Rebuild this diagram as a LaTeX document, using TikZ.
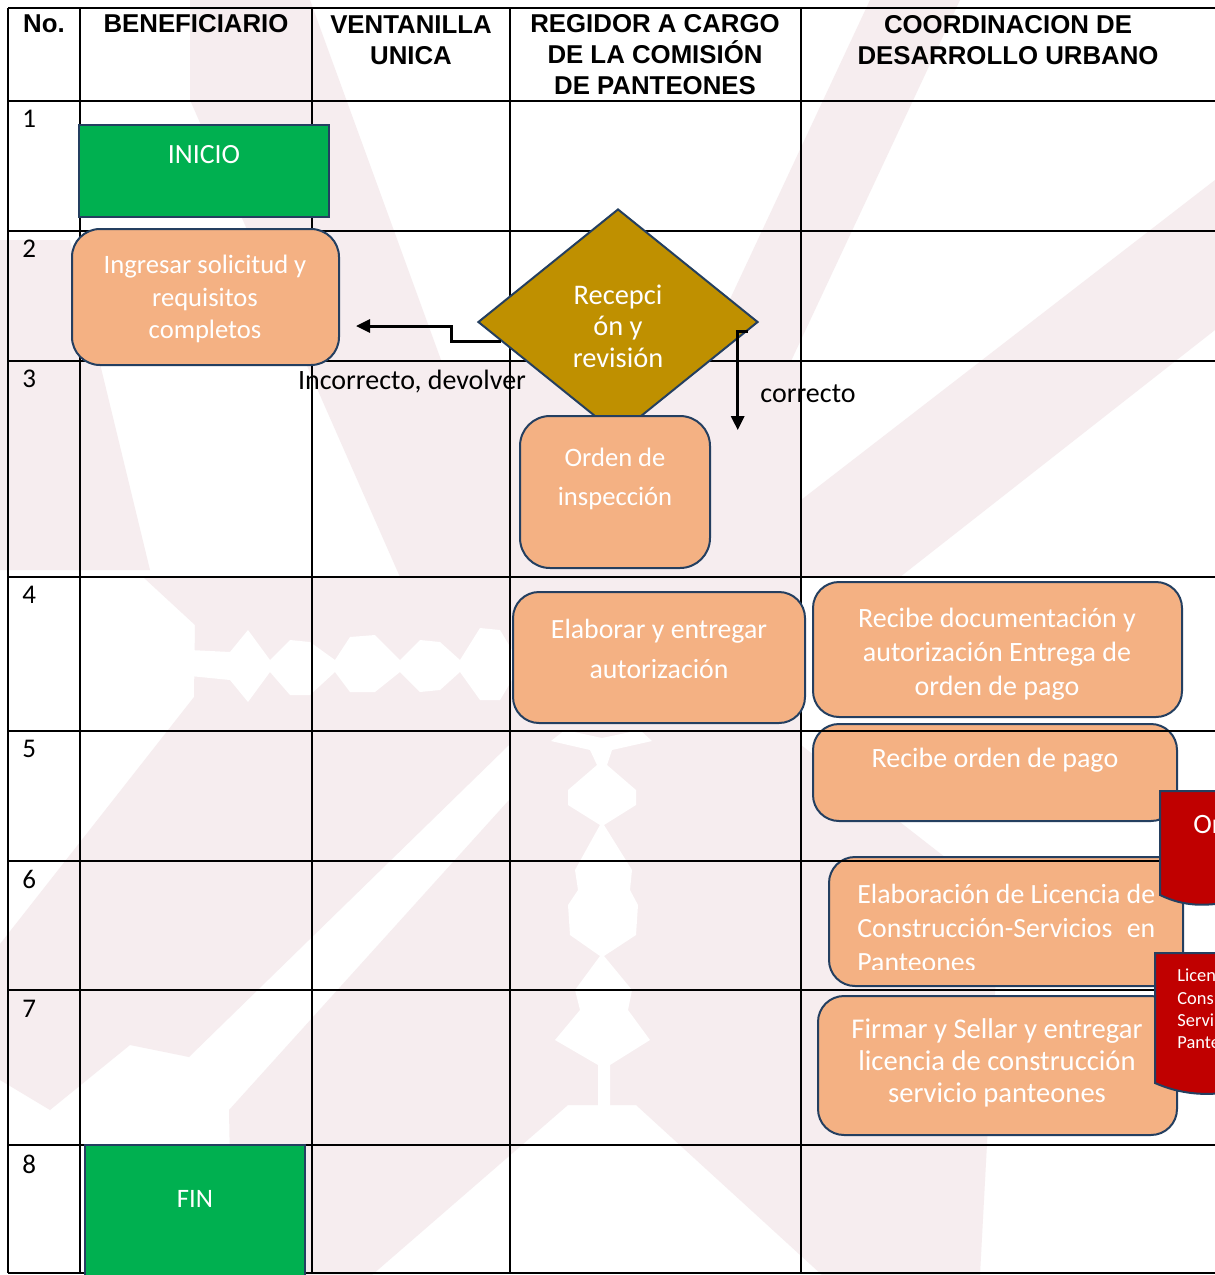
\documentclass[tikz,border=0pt]{standalone}
\usepackage{fontspec}
\setmainfont{Carlito}
\newfontfamily\hdfont{Liberation Sans}
\usetikzlibrary{shapes.geometric,arrows.meta,calc}
\definecolor{bordc}{HTML}{243F60}
\definecolor{orangec}{HTML}{F4B183}
\definecolor{greenc}{HTML}{00B050}
\definecolor{goldc}{HTML}{BF9000}
\definecolor{redc}{HTML}{C00000}
\definecolor{wmc}{HTML}{F6EDEF}
\begin{document}
\begin{tikzpicture}[x=0.5pt,y=-0.5pt,
  gridl/.style={line width=1pt,draw=black},
  obox/.style={draw=bordc,line width=1pt,fill=orangec,inner sep=0pt,rounded corners=13pt},
  gbox/.style={draw=bordc,line width=1pt,fill=greenc,inner sep=0pt},
  wtxt/.style={text=white,align=center,inner sep=0pt,font=\fontsize{13.6}{16.5}\selectfont},
  btxt/.style={text=black,inner sep=0pt,font=\fontsize{14}{17}\selectfont},
  hdr/.style={align=center,inner sep=0pt,font=\hdfont\bfseries\fontsize{12.9}{15.5}\selectfont},
  num/.style={anchor=west,inner sep=0pt,font=\fontsize{13.5}{16}\selectfont},
  conn/.style={line width=1.5pt,draw=black,-{Triangle[length=7pt,width=6.5pt]}},
  redshape/.style={fill=redc,draw=bordc,line width=1pt}]
\useasboundingbox (0,0) rectangle (1215,1275);
\clip (0,0) rectangle (1215,1275);
\fill[white] (0,0) rectangle (1215,1275);
% watermark (approximate)
\fill[wmc] (190,0) -- (310,0) -- (520,577) -- (400,577) -- (190,100) -- cycle;
\fill[wmc] (870,0) -- (960,0) -- (690,577) -- (600,577) -- cycle;
\fill[wmc] (1215,180) -- (1215,330) -- (900,577) -- (801,577) -- (801,500) -- cycle;
\fill[wmc] (0,240) -- (70,240) -- (150,570) -- (0,570) -- cycle;
\fill[wmc] (400,361) -- (801,361) -- (801,577) -- (400,577) -- cycle;
\fill[wmc] (143,577) -- (801,577) -- (801,745) -- (509,745) -- (189,1057) -- (130,1045) -- (50,1110) -- (0,1080) -- (0,944) -- (194,697) -- (195,625) -- cycle;
\fill[wmc] (229,1110) -- (509,800) -- (509,745) -- (801,745) -- (1000,900) -- (980,1275) -- (822,1275) -- (636,1105) -- (568,1105) -- (372,1275) -- (232,1275) -- cycle;
\fill[white] (190,650) -- (230,652) -- (248,630) -- (270,660) -- (290,640) -- (310,642) -- (335,660) -- (350,637) -- (375,635) -- (400,660) -- (420,640) -- (440,642) -- (460,660) -- (480,628) -- (500,630) -- (512,650) -- (512,680) -- (500,700) -- (480,700) -- (460,672) -- (440,690) -- (420,692) -- (400,672) -- (375,692) -- (350,692) -- (335,672) -- (310,695) -- (290,695) -- (270,672) -- (248,702) -- (230,680) -- (190,676) -- cycle;
\fill[white] (551,741) -- (590,750) -- (597,765) -- (568,790) -- (568,805) -- (600,825) -- (575,870) -- (578,890) -- (568,905) -- (570,935) -- (600,956) -- (575,990) -- (580,1010) -- (555,1040) -- (598,1065) -- (598,1110) -- (610,1110) -- (610,1065) -- (650,1040) -- (628,1010) -- (632,990) -- (604,956) -- (636,935) -- (638,905) -- (630,890) -- (632,870) -- (604,825) -- (636,805) -- (636,790) -- (607,765) -- (612,750) -- (652,741) -- (640,730) -- (602,738) -- (565,730) -- cycle;
% grid
\draw[gridl] (8,8) -- (1230,8);
\draw[gridl] (8,101) -- (1230,101);
\draw[gridl] (8,231) -- (1230,231);
\draw[gridl] (8,361) -- (1230,361);
\draw[gridl] (8,577) -- (1230,577);
\draw[gridl] (8,1145) -- (1230,1145);
\draw[gridl] (8,1273) -- (1230,1273);
\draw[gridl] (8,8) -- (8,1273);
\draw[gridl] (80,8) -- (80,1273);
\draw[gridl] (312,8) -- (312,1273);
\draw[gridl] (510,8) -- (510,1273);
\draw[gridl] (801,8) -- (801,1273);
\draw[gridl] (8,731) -- (801,731);
\draw[gridl] (8,861) -- (801,861);
\draw[gridl] (8,990) -- (801,990);
% headers
\node[hdr] (hno) at (44,24) {No.};
\node[hdr] (hben) at (196,24) {BENEFICIARIO};
\node[hdr] (hven) at (411,40) {VENTANILLA\\UNICA};
\node[hdr] (hreg) at (655,55) {REGIDOR A CARGO\\DE LA COMISIÓN\\DE PANTEONES};
\node[hdr] (hcoo) at (1008,40) {COORDINACION DE\\DESARROLLO URBANO};
% row numbers
\node[num] (n1) at (22,119) {1};
\node[num] (n2) at (22,249) {2};
\node[num] (n3) at (22,379) {3};
\node[num] (n4) at (22,595) {4};
\node[num] (n5) at (22,749) {5};
\node[num] (n6) at (22,879) {6};
\node[num] (n7) at (22,1009) {7};
\node[num] (n8) at (22,1164) {8};
% shapes
\node[gbox,minimum width=125pt,minimum height=46pt] (inicio) at (204,171) {};
\node[wtxt,font=\fontsize{13.9}{16}\selectfont] (tinicio) at (204,155) {INICIO};
\node[obox,rounded corners=14pt,minimum width=133.5pt,minimum height=68pt] (ingresar) at (205.5,297) {};
\node[wtxt,font=\fontsize{13.3}{16.25}\selectfont] (tingresar) at (205,299) {Ingresar solicitud y\\requisitos\\completos};
\node[diamond,draw=bordc,line width=1pt,fill=goldc,inner sep=0pt,minimum width=140pt,minimum height=113pt] (dia) at (618,322) {};
\node[wtxt,font=\fontsize{14.2}{15.75}\selectfont] (tdia) at (618,326) {Recepci\\ón y\\revisión};
\node[obox,rounded corners=15pt,minimum width=95pt,minimum height=76pt] (orden) at (615,492) {};
\node[wtxt,font=\fontsize{13.3}{19.5}\selectfont] (torden) at (615,479) {Orden de\\inspección};
\node[obox,minimum width=146pt,minimum height=65.5pt] (elab) at (659,657.5) {};
\node[wtxt,font=\fontsize{13.9}{20}\selectfont] (telab) at (659,649) {Elaborar y entregar\\autorización};
\node[obox,minimum width=184.5pt,minimum height=67.5pt] (recdoc) at (997.5,649.5) {};
\node[wtxt,font=\fontsize{14}{17}\selectfont] (trecdoc) at (997,654) {Recibe documentación y\\autorización Entrega de\\orden de pago};
\node[obox,minimum width=182pt,minimum height=48.5pt] (recpago) at (995,772.5) {};
\node[wtxt,font=\fontsize{14}{17}\selectfont] (trecpago) at (995,760) {Recibe orden de pago};
\node[obox,minimum width=177pt,minimum height=64.5pt] (licencia) at (1006,921.5) {};
\begin{scope}
\clip (820,850) rectangle (1215,969);
\node[text=white,align=left,inner sep=0pt,anchor=west,font=\fontsize{13.9}{17}\selectfont] (tlicencia) at (857,928) {Elaboración de Licencia de\\\makebox[149pt][l]{Construcción-Servicios\hfill en}\\Panteones};
\end{scope}
\node[obox,minimum width=179.5pt,minimum height=69.5pt] (firmar) at (997.5,1065.5) {};
\node[wtxt,font=\fontsize{14.3}{16}\selectfont] (tfirmar) at (997,1063) {Firmar y Sellar y entregar\\licencia de construcción\\servicio panteones};
\node[gbox,minimum width=110pt,minimum height=72.5pt] (fin) at (195,1217.5) {};
\node[wtxt,font=\fontsize{13.3}{16}\selectfont] (tfin) at (195,1199) {FIN};
% row lines drawn over boxes in last column
\draw[gridl] (801,731) -- (1230,731);
\draw[gridl] (801,861) -- (1230,861);
\draw[gridl] (801,990) -- (1230,990);
% connectors
\coordinate (s1) at ($(dia.west)!0.17!(dia.south)$);
\coordinate (e1) at ($(ingresar.east)+(16,29)$);
\draw[conn] (s1) -- ++(-49,0) |- (e1);
\coordinate (s2) at ($(dia.east)!0.08!(dia.south)$);
\coordinate (e2) at ($(s2)+(-10,99)$);
\draw[conn] (s2) -- ++(-10,0) -- (e2);
\node[btxt] (lbl1) at (412,382) {Incorrecto, devolver};
\node[btxt] (lbl2) at (808,394) {correcto};
% red document shapes (cut at the right edge)
\filldraw[redshape] (1160,791) -- (1230,791) -- (1230,902) .. controls (1205,906) and (1185,907) .. (1160,895) -- cycle;
\node[text=white,anchor=west,inner sep=0pt,font=\fontsize{14}{17}\selectfont] (tred1) at (1193,824) {Or};
\filldraw[redshape] (1155,953) -- (1230,953) -- (1230,1092) .. controls (1205,1096) and (1180,1094) .. (1155,1083) -- cycle;
\node[text=white,anchor=west,align=left,inner sep=0pt,font=\fontsize{9.2}{11.2}\selectfont] (tred2) at (1177,1009) {Licen\\Cons\\Servi\\Pante};
\end{tikzpicture}
\end{document}
